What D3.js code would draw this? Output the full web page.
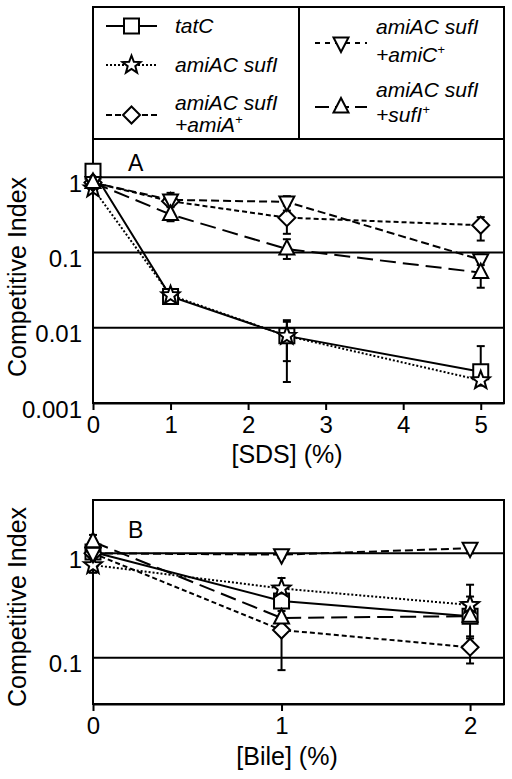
<!DOCTYPE html>
<html><head><meta charset="utf-8">
<script src="https://cdn.jsdelivr.net/npm/d3@7"></script>
<style>
html,body{margin:0;padding:0;background:#fff;}
svg{display:block;font-family:"Liberation Sans",Arial,sans-serif;}
</style></head>
<body>
<svg id="chart" width="512" height="779"></svg>
<script>
// ---------- DATA ----------
const seriesNames = ["tatC","amiAC sufI","amiAC sufI +amiA+","amiAC sufI +amiC+","amiAC sufI +sufI+"];
const sdsX = [0, 1, 2.5, 5];
const sdsTatC   = [1.2, 0.026, 0.0078, 0.0026];
const sdsTatCLo = [1.1, 0.023, 0.0019, 0.0019];
const sdsTatCHi = [1.3, 0.030, 0.0126, 0.0057];
const sdsSufI   = [0.71, 0.027, 0.0078, 0.0020];
const sdsSufILo = [0.66, 0.024, 0.0036, 0.0017];
const sdsSufIHi = [0.78, 0.031, 0.012, 0.0023];
const sdsAmiA   = [0.85, 0.48, 0.29, 0.23];
const sdsAmiALo = [0.80, 0.42, 0.177, 0.144];
const sdsAmiAHi = [0.90, 0.56, 0.36, 0.295];
const sdsAmiC   = [0.85, 0.50, 0.47, 0.080];
const sdsAmiCLo = [0.80, 0.44, 0.42, 0.068];
const sdsAmiCHi = [0.90, 0.62, 0.56, 0.094];
const sdsSufIc  = [0.85, 0.32, 0.111, 0.054];
const sdsSufIcLo= [0.80, 0.26, 0.082, 0.034];
const sdsSufIcHi= [0.90, 0.40, 0.15, 0.080];

const bileX = [0, 1, 2];
const bileTatC   = [1.03, 0.35, 0.25];
const bileTatCLo = [0.95, 0.30, 0.153];
const bileTatCHi = [1.12, 0.42, 0.385];
const bileSufI   = [0.77, 0.46, 0.32];
const bileSufILo = [0.65, 0.40, 0.27];
const bileSufIHi = [0.90, 0.58, 0.50];
const bileAmiA   = [1.0, 0.184, 0.126];
const bileAmiALo = [0.95, 0.076, 0.088];
const bileAmiAHi = [1.05, 0.30, 0.16];
const bileAmiC   = [1.0, 0.97, 1.12];
const bileAmiCLo = [0.95, 0.90, 1.0];
const bileAmiCHi = [1.05, 1.03, 1.18];
const bileSufIc  = [1.29, 0.24, 0.25];
const bileSufIcLo= [1.15, 0.21, 0.22];
const bileSufIcHi= [1.50, 0.28, 0.28];

const sdsXTicks = [0,1,2,3,4,5];
const sdsYTicks = [1, 0.1, 0.01, 0.001];
const sdsYLabels = ["1","0.1","0.01","0.001"];
const bileXTicks = [0,1,2];
const bileYTicks = [1, 0.1];
const bileYLabels = ["1","0.1"];

// ---------- STYLES ----------
const styles = [
  {marker:"square", dash:null},
  {marker:"star", dash:"2,2"},
  {marker:"diamond", dash:"5,3"},
  {marker:"down", dash:"8,4"},
  {marker:"up", dash:"16,7"}
];
const legendDash = [null, "2,2", "6,3", "5,5", "14,6"];

function markerPath(type){
  const p = d3.path();
  if(type==="square"){ p.rect(-7.5,-7.5,15,15); }
  else if(type==="diamond"){ p.moveTo(0,-8.5); p.lineTo(8.5,0); p.lineTo(0,8.5); p.lineTo(-8.5,0); p.closePath(); }
  else if(type==="up"){ p.moveTo(0,-9); p.lineTo(7.5,5.5); p.lineTo(-7.5,5.5); p.closePath(); }
  else if(type==="down"){ p.moveTo(0,9); p.lineTo(7.5,-5.5); p.lineTo(-7.5,-5.5); p.closePath(); }
  else if(type==="star"){
    for(let i=0;i<10;i++){
      const r = i%2===0 ? 9.5 : 4;
      const a = -Math.PI/2 + i*Math.PI/5;
      const x = r*Math.cos(a), y = r*Math.sin(a);
      if(i===0) p.moveTo(x,y); else p.lineTo(x,y);
    }
    p.closePath();
  }
  return p.toString();
}

const svg = d3.select("#chart");
const L = 93, R = 504;

function drawPanel(cfg){
  const x = d3.scaleLinear().domain(cfg.xDomain).range([L, R]);
  const y = d3.scaleLog().domain(cfg.yDomain).range([cfg.bottom, cfg.top]);
  const g = svg.append("g");

  // gridlines
  g.selectAll("line.grid").data(cfg.yTicks.filter(v=>v!==cfg.yDomain[0])).enter().append("line")
    .attr("x1",L).attr("x2",R).attr("y1",d=>y(d)).attr("y2",d=>y(d))
    .attr("stroke","#000").attr("stroke-width",2);

  // frame
  g.append("rect").attr("x",L).attr("y",cfg.top).attr("width",R-L).attr("height",cfg.bottom-cfg.top)
    .attr("fill","none").attr("stroke","#000").attr("stroke-width",2);

  // x axis
  const xa = g.append("g").attr("transform",`translate(0,${cfg.bottom})`)
    .call(d3.axisBottom(x).tickValues(cfg.xTicks).tickSize(7).tickSizeOuter(0).tickFormat(d3.format("d")));
  xa.select(".domain").attr("stroke-width",2);
  xa.selectAll(".tick line").attr("stroke-width",2);
  xa.selectAll(".tick text").attr("font-size",24).attr("fill","#000").attr("dy",null).attr("y",30)
    .attr("font-family","Liberation Sans, Arial, sans-serif");

  // y axis labels
  const ya = g.append("g").attr("transform",`translate(${L},0)`)
    .call(d3.axisLeft(y).tickValues(cfg.yTicks).tickSize(0).tickFormat((d,i)=>cfg.yLabels[i]));
  ya.select(".domain").remove();
  ya.selectAll(".tick text").attr("font-size",24).attr("fill","#000").attr("x",-11).attr("dy",null).attr("y",cfg.labelDy)
    .attr("font-family","Liberation Sans, Arial, sans-serif");

  // axis titles
  g.append("text").attr("x",287).attr("y",cfg.xTitleY).attr("text-anchor","middle")
    .attr("font-size",25).text(cfg.xTitle);
  g.append("text").attr("transform",`translate(26,${cfg.yTitleC}) rotate(-90)`).attr("text-anchor","middle")
    .attr("font-size",25).text("Competitive Index");
  g.append("text").attr("x",128).attr("y",cfg.letterY).attr("font-size",23).text(cfg.letter);

  const line = d3.line().x(d=>x(d[0])).y(d=>y(d[1]));
  const series = cfg.series;
  // lines
  series.forEach((s,i)=>{
    g.append("path").datum(cfg.xs.map((xv,j)=>[xv,s.v[j]]))
      .attr("d",line).attr("fill","none").attr("stroke","#000").attr("stroke-width",2)
      .attr("stroke-dasharray",styles[i].dash);
  });
  // error bars
  series.forEach((s,i)=>{
    cfg.xs.forEach((xv,j)=>{
      const cx = x(xv);
      g.append("line").attr("x1",cx).attr("x2",cx).attr("y1",y(s.lo[j])).attr("y2",y(s.hi[j]))
        .attr("stroke","#000").attr("stroke-width",2);
      [s.lo[j], s.hi[j]].forEach(v=>{
        g.append("line").attr("x1",cx-4).attr("x2",cx+4).attr("y1",y(v)).attr("y2",y(v))
          .attr("stroke","#000").attr("stroke-width",2);
      });
    });
  });
  // markers
  series.forEach((s,i)=>{
    g.selectAll(null).data(cfg.xs.map((xv,j)=>[xv,s.v[j]])).enter().append("path")
      .attr("d",markerPath(styles[i].marker))
      .attr("transform",d=>`translate(${x(d[0])},${y(d[1])})`)
      .attr("fill","#fff").attr("stroke","#000").attr("stroke-width",2);
  });
}

drawPanel({
  xDomain:[0,5.3], yDomain:[0.001,3.22], top:139, bottom:403,
  xTicks:sdsXTicks, yTicks:sdsYTicks, yLabels:sdsYLabels, labelDy:14,
  xTitle:"[SDS] (%)", xTitleY:463, yTitleC:277, letter:"A", letterY:171,
  xs:sdsX,
  series:[
    {v:sdsTatC, lo:sdsTatCLo, hi:sdsTatCHi},
    {v:sdsSufI, lo:sdsSufILo, hi:sdsSufIHi},
    {v:sdsAmiA, lo:sdsAmiALo, hi:sdsAmiAHi},
    {v:sdsAmiC, lo:sdsAmiCLo, hi:sdsAmiCHi},
    {v:sdsSufIc, lo:sdsSufIcLo, hi:sdsSufIcHi}
  ]
});
drawPanel({
  xDomain:[0,2.18], yDomain:[0.036,3.24], top:500, bottom:704,
  xTicks:bileXTicks, yTicks:bileYTicks, yLabels:bileYLabels, labelDy:14,
  xTitle:"[Bile] (%)", xTitleY:765, yTitleC:607, letter:"B", letterY:538,
  xs:bileX,
  series:[
    {v:bileTatC, lo:bileTatCLo, hi:bileTatCHi},
    {v:bileSufI, lo:bileSufILo, hi:bileSufIHi},
    {v:bileAmiA, lo:bileAmiALo, hi:bileAmiAHi},
    {v:bileAmiC, lo:bileAmiCLo, hi:bileAmiCHi},
    {v:bileSufIc, lo:bileSufIcLo, hi:bileSufIcHi}
  ]
});

// ---------- LEGEND ----------
const lg = svg.append("g");
lg.append("rect").attr("x",L).attr("y",7).attr("width",R-L).attr("height",132)
  .attr("fill","#fff").attr("stroke","#000").attr("stroke-width",2);
lg.append("line").attr("x1",299).attr("x2",299).attr("y1",7).attr("y2",139).attr("stroke","#000").attr("stroke-width",2);

const legendItems = [
  {i:0, sx:106, ex:157, my:26, tx:175, lines:[["tatC",33]]},
  {i:1, sx:106, ex:157, my:65, tx:175, lines:[["amiAC sufI",72]]},
  {i:2, sx:106, ex:157, my:115, tx:175, lines:[["amiAC sufI",110],["+amiA",132,"+"]]},
  {i:3, sx:315, ex:367, my:43, tx:376, lines:[["amiAC sufI",34],["+amiC",62,"+"]]},
  {i:4, sx:315, ex:367, my:107, tx:376, lines:[["amiAC sufI",97],["+sufI",122,"+"]]}
];
legendItems.forEach(it=>{
  lg.append("line").attr("x1",it.sx).attr("x2",it.ex).attr("y1",it.my).attr("y2",it.my)
    .attr("stroke","#000").attr("stroke-width",2).attr("stroke-dasharray",legendDash[it.i]);
  lg.append("path").attr("d",markerPath(styles[it.i].marker))
    .attr("transform",`translate(${(it.sx+it.ex)/2},${it.my})`)
    .attr("fill","#fff").attr("stroke","#000").attr("stroke-width",2);
  it.lines.forEach(l=>{
    const t = lg.append("text").attr("x",it.tx).attr("y",l[1]).attr("font-size",21).attr("font-style","italic");
    t.append("tspan").text(l[0]);
    if(l[2]) t.append("tspan").attr("font-size",13).attr("dy",-8).text(l[2]);
  });
});
</script>
</body></html>
